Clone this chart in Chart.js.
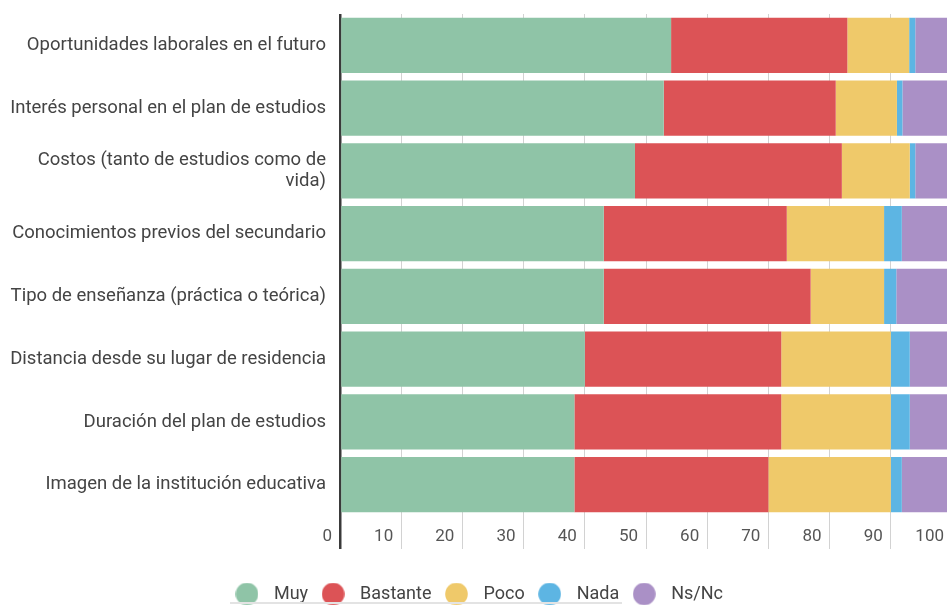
<!DOCTYPE html>
<html><head><meta charset="utf-8">
<script src="https://cdn.jsdelivr.net/npm/chart.js@4"></script>
<style>
html,body{margin:0;padding:0;overflow:hidden;background:#fff}
#wrap{position:relative;width:960px;height:617px}
#strip{position:absolute;left:230px;top:602px;width:392px;height:2px;background:#e3e3e3}
</style></head><body>
<div id="wrap"><canvas id="c"></canvas></div>
<div id="strip"></div>
<script>
const categories = [
  'Oportunidades laborales en el futuro',
  'Interés personal en el plan de estudios',
  ['Costos (tanto de estudios como de', 'vida)'],
  'Conocimientos previos del secundario',
  'Tipo de enseñanza (práctica o teórica)',
  'Distancia desde su lugar de residencia',
  'Duración del plan de estudios',
  'Imagen de la institución educativa'
];
const seriesNames = ['Muy', 'Bastante', 'Poco', 'Nada', 'Ns/Nc'];
const muy      = [54.1, 52.9, 48.2, 43.1, 43.1, 40.0, 38.3, 38.3];
const bastante = [28.8, 28.1, 33.8, 29.9, 33.8, 32.1, 33.8, 31.7];
const poco     = [10.1, 10.0, 11.1, 15.9, 12.0, 17.9, 17.9, 20.0];
const nada     = [1.0, 0.9, 0.9, 2.9, 2.0, 3.1, 3.1, 1.8];
const nsnc     = [6.0, 8.1, 6.0, 8.2, 9.1, 6.9, 6.9, 8.2];
const tickValues = [0, 10, 20, 30, 40, 50, 60, 70, 80, 90, 100];

const colors = ['#8fc4a7', '#dc5356', '#efc96a', '#5db5e3', '#aa90c6'];
const seriesValues = [muy, bastante, poco, nada, nsnc];

function dot(color) {
  const cv = document.createElement('canvas');
  cv.width = 23; cv.height = 23;
  const g = cv.getContext('2d');
  g.fillStyle = color;
  g.beginPath(); g.arc(11.5, 11.5, 11.3, 0, Math.PI * 2); g.fill();
  return cv;
}
const dots = colors.map(dot);

new Chart(document.getElementById('c'), {
  type: 'bar',
  data: {
    labels: categories,
    datasets: seriesNames.map((n, i) => ({
      label: n,
      data: seriesValues[i],
      backgroundColor: colors[i],
      borderWidth: 0,
      categoryPercentage: 1,
      barPercentage: 0.88
    }))
  },
  options: {
    indexAxis: 'y',
    responsive: true,
    maintainAspectRatio: false,
    animation: false,
    layout: { padding: { top: 14, right: 8, left: 0, bottom: 4 } },
    plugins: {
      tooltip: { enabled: false },
      legend: {
        position: 'bottom',
        labels: {
          usePointStyle: true,
          pointStyleWidth: 36,
          padding: 7,
          color: '#444',
          font: { family: 'Roboto', size: 18 },
          generateLabels(chart) {
            const items = Chart.defaults.plugins.legend.labels.generateLabels(chart);
            items.forEach((it, i) => { it.pointStyle = dots[i]; });
            return items;
          }
        }
      }
    },
    scales: {
      x: {
        stacked: true, min: 0, max: 100,
        afterBuildTicks(s) { s.ticks = tickValues.map(v => ({ value: v })); },
        border: { display: false },
        grid: {
          color: c => (c.tick && c.tick.value === 0) ? '#3a3a3a' : '#d2d2d2',
          lineWidth: c => (c.tick && c.tick.value === 0) ? 2.5 : 1,
          tickLength: 33
        },
        ticks: {
          align: 'end', labelOffset: -8, padding: -22,
          color: '#555', font: { family: 'Roboto', size: 17 }
        },
        afterFit(s) { s.height = 62; s.paddingLeft = 0; s.paddingRight = 0; }
      },
      y: {
        stacked: true,
        grid: { display: false, drawTicks: false },
        border: { display: false },
        ticks: { color: '#444', padding: 14, font: { family: 'Roboto', size: 18.5, lineHeight: 1.12 } },
        afterFit(s) { s.width = 340; s.paddingTop = 0; s.paddingBottom = 0; }
      }
    }
  }
});
</script>
</body></html>
